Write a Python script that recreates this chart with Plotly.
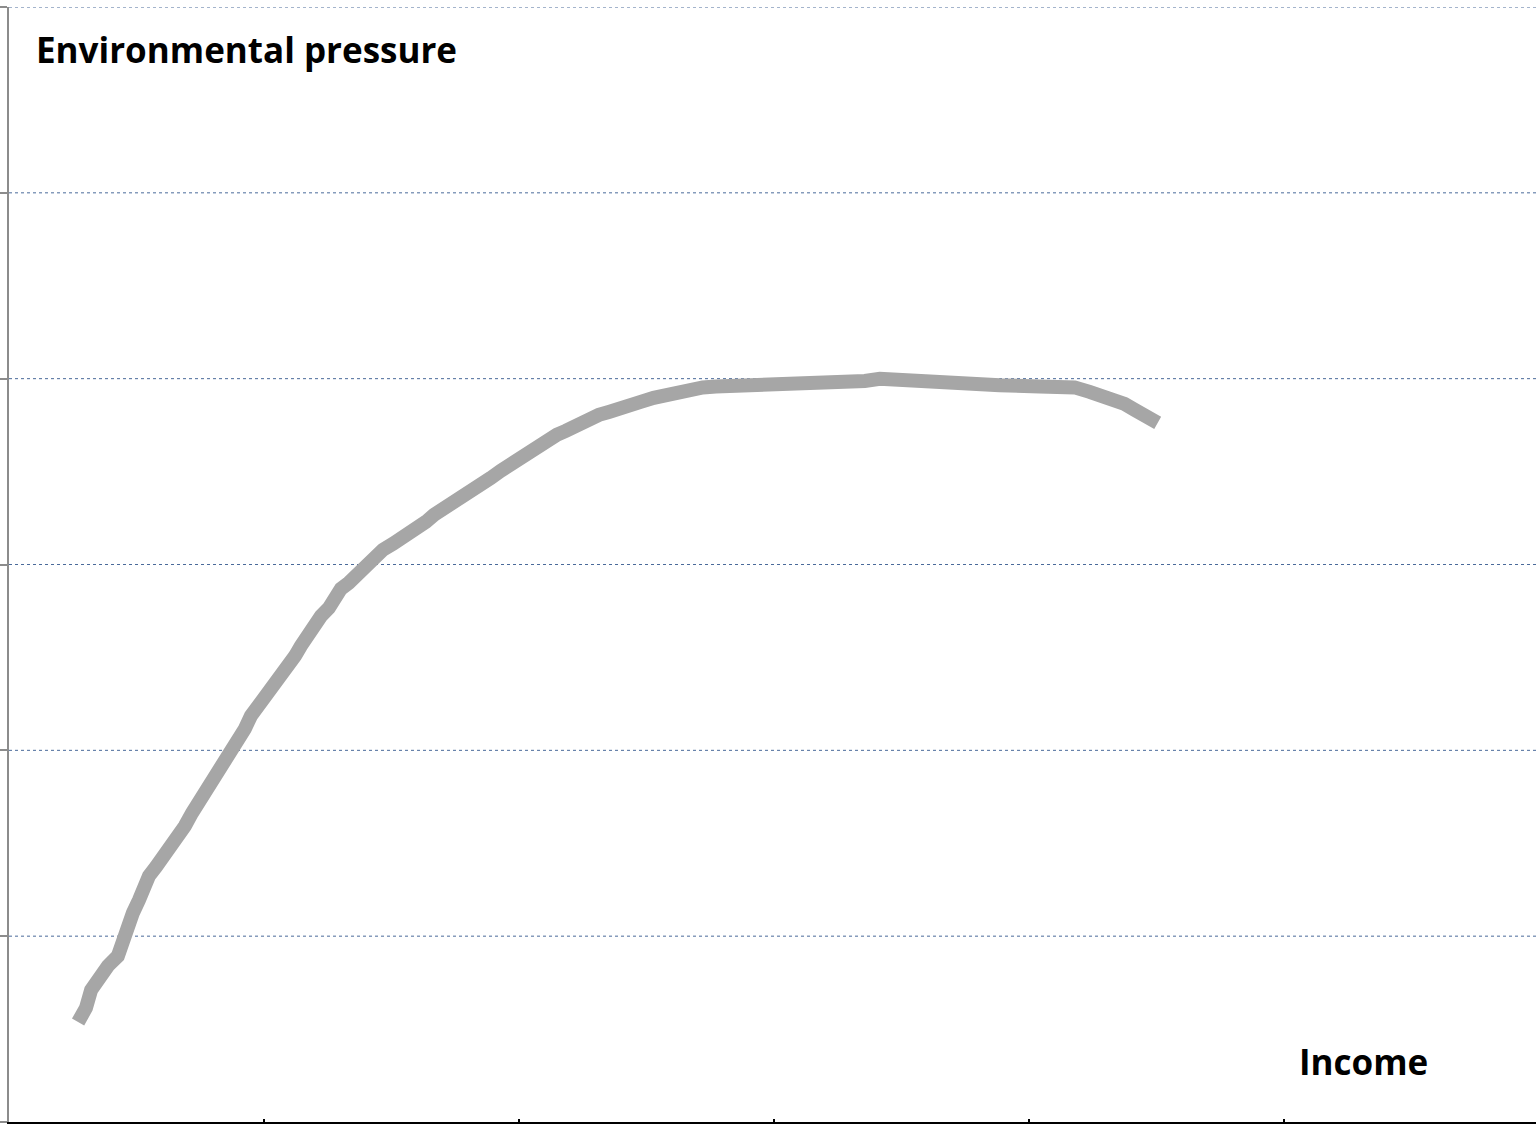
import plotly.graph_objects as go

# Income (x) and environmental pressure (y) values
income = [0.271, 0.302, 0.322, 0.357, 0.388, 0.427, 0.443, 0.463, 0.486, 0.510,
          0.525, 0.549, 0.576, 0.608, 0.639, 0.663, 0.690, 0.718, 0.749, 0.773,
          0.792, 0.827, 0.851, 0.875, 0.894, 0.925, 0.949, 0.980, 1.012, 1.035,
          1.067, 1.098, 1.122, 1.145, 1.169, 1.192, 1.224, 1.255, 1.278, 1.302,
          1.333, 1.365, 1.388, 1.427, 1.467, 1.506, 1.537, 1.576, 1.608, 1.635,
          1.667, 1.694, 1.722, 1.753, 1.784, 1.820, 1.859, 1.890, 1.929, 1.969,
          2.000, 2.039, 2.075, 2.110, 2.149, 2.184, 2.216, 2.243, 2.282, 2.314,
          2.353, 2.392, 2.431, 2.478, 2.529, 2.576, 2.627, 2.675, 2.722, 2.773,
          2.886, 3.063, 3.200, 3.298, 3.357, 3.416, 3.494, 3.592, 3.710, 3.827,
          3.886, 4.043, 4.180, 4.239, 4.298, 4.337, 4.376, 4.416, 4.447, 4.475,
          4.506]
pressure = [0.538, 0.614, 0.710, 0.786, 0.840, 0.893, 0.974, 1.060, 1.125, 1.195,
            1.270, 1.324, 1.372, 1.432, 1.480, 1.539, 1.593, 1.663, 1.728, 1.782,
            1.846, 1.900, 1.954, 2.008, 2.061, 2.115, 2.185, 2.239, 2.293, 2.357,
            2.400, 2.454, 2.508, 2.562, 2.616, 2.659, 2.723, 2.766, 2.820, 2.869,
            2.901, 2.944, 2.987, 3.041, 3.079, 3.111, 3.138, 3.159, 3.192, 3.229,
            3.267, 3.289, 3.321, 3.353, 3.380, 3.407, 3.434, 3.466, 3.504, 3.541,
            3.579, 3.611, 3.638, 3.665, 3.698, 3.719, 3.741, 3.768, 3.784, 3.805,
            3.821, 3.843, 3.859, 3.875, 3.897, 3.913, 3.929, 3.942, 3.953, 3.958,
            3.961, 3.964, 3.967, 3.972, 3.988, 3.999, 3.991, 3.983, 3.977, 3.972,
            3.964, 3.958, 3.953, 3.929, 3.907, 3.880, 3.864, 3.832, 3.800, 3.778,
            3.762]

x_ticks = [0, 1, 2, 3, 4, 5]
y_ticks = [0, 1, 2, 3, 4, 5, 6]

fig = go.Figure()
fig.add_trace(go.Scatter(
    x=income, y=pressure, mode="lines",
    line=dict(color="#a6a6a6", width=14, shape="linear"),
    hoverinfo="skip", showlegend=False,
))

for v in y_ticks[1:]:
    fig.add_hline(y=v, line=dict(color="#4a6a9a", width=1, dash="dot"), layer="below")

fig.update_layout(
    width=1536, height=1124,
    margin=dict(l=9, r=0, t=7, b=2),
    paper_bgcolor="white", plot_bgcolor="white",
    font=dict(family="'Open Sans', Lato, sans-serif", color="black"),
    xaxis=dict(range=[0, 5.99], tickvals=x_ticks, showticklabels=False,
               showgrid=False, zeroline=False, showline=True,
               linecolor="black", linewidth=2, ticks="inside", ticklen=3,
               tickcolor="black", tickwidth=2),
    yaxis=dict(range=[0, 6], tickvals=y_ticks, showticklabels=False,
               showgrid=False, zeroline=False, showline=True,
               linecolor="#8c8c8c", linewidth=2, ticks="outside", ticklen=8,
               tickcolor="#8c8c8c", tickwidth=2),
    annotations=[
        dict(text="<b>Environmental pressure</b>", xref="paper", yref="paper",
             x=0.0165, y=0.962, xanchor="left", yanchor="middle",
             showarrow=False, font=dict(size=35, color="black")),
        dict(text="<b>Income</b>", xref="paper", yref="paper",
             x=0.887, y=0.054, xanchor="center", yanchor="middle",
             showarrow=False, font=dict(size=35, color="black")),
    ],
)

fig.write_html(
    "out.html",
    config={"displayModeBar": False},
    post_script="document.body.style.margin='0';document.body.style.overflow='hidden';",
)
